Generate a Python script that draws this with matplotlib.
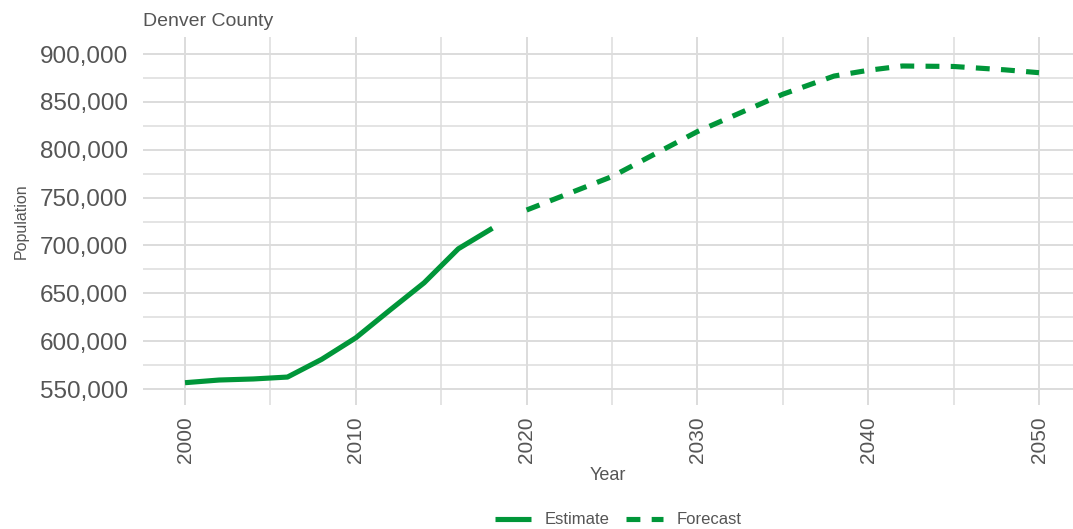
import matplotlib
matplotlib.use("Agg")
import matplotlib.pyplot as plt
from matplotlib.ticker import FuncFormatter, MultipleLocator
from matplotlib.lines import Line2D

# Denver County population: annual estimates and long-range forecast
estimate_years = [2000, 2002, 2004, 2006, 2008, 2010, 2012, 2014, 2016, 2018]
estimate_pop = [556600, 559400, 560500, 562500, 581000, 603500, 632500, 661000, 696500, 718000]

forecast_years = [2020, 2025, 2030, 2035, 2038, 2040, 2042, 2045, 2048, 2050]
forecast_pop = [737000, 772000, 819000, 858000, 877000, 883000, 887500, 887000, 883500, 880500]

y_ticks = [550000, 600000, 650000, 700000, 750000, 800000, 850000, 900000]
x_ticks = [2000, 2010, 2020, 2030, 2040, 2050]

GREEN = "#009639"
GRID = "#dcdcdc"
TEXT = "#555555"

plt.rcParams["font.family"] = ["Liberation Sans", "DejaVu Sans"]

fig = plt.figure(figsize=(10.73, 5.29), dpi=100)
W, H = 1073, 529
left, right, top, bottom = 143, 1073, 37, 405
ax = fig.add_axes([left / W, 1 - bottom / H, (right - left) / W, (bottom - top) / H])

ax.plot(estimate_years, estimate_pop, color=GREEN, lw=3.7, solid_capstyle="butt",
        solid_joinstyle="round", label="Estimate", zorder=3)
ax.plot(forecast_years, forecast_pop, color=GREEN, lw=3.7, linestyle=(0, (2.7, 2.2)),
        dash_capstyle="butt", label="Forecast", zorder=3)

ax.set_xlim(1997.54, 2051.99)
ax.set_ylim(533300, 917800)

ax.set_xticks(x_ticks)
ax.xaxis.set_minor_locator(MultipleLocator(5))
ax.set_yticks(y_ticks)
ax.yaxis.set_minor_locator(MultipleLocator(25000))
ax.yaxis.set_major_formatter(FuncFormatter(lambda v, p: f"{int(v):,}"))

ax.grid(which="major", color=GRID, lw=1.4)
ax.grid(which="minor", color=GRID, lw=1.1)
ax.set_axisbelow(True)
for s in ax.spines.values():
    s.set_visible(False)
ax.tick_params(which="both", length=0)
ax.tick_params(axis="y", labelsize=17.5, labelcolor=TEXT, pad=11)
ax.tick_params(axis="x", labelsize=15, labelcolor=TEXT, pad=8, labelrotation=90)

ax.set_xlabel("Year", fontsize=13, color=TEXT, labelpad=3)
ax.set_ylabel("Population", fontsize=11.5, color=TEXT, labelpad=8)
ax.set_title("Denver County", fontsize=14, color=TEXT, loc="left", pad=8)

handles = [Line2D([], [], color=GREEN, lw=3.7, solid_capstyle="butt"),
           Line2D([], [], color=GREEN, lw=3.7, linestyle=(0, (2.7, 2.2)), dash_capstyle="butt")]
fig.legend(handles, ["Estimate", "Forecast"], loc="center", bbox_to_anchor=(618 / W, 1 - 520 / H),
           ncol=2, frameon=False, fontsize=12, labelcolor=TEXT, handlelength=2.2,
           handletextpad=0.8, columnspacing=1.0)

fig.savefig("out.png", dpi=100, facecolor="white")
